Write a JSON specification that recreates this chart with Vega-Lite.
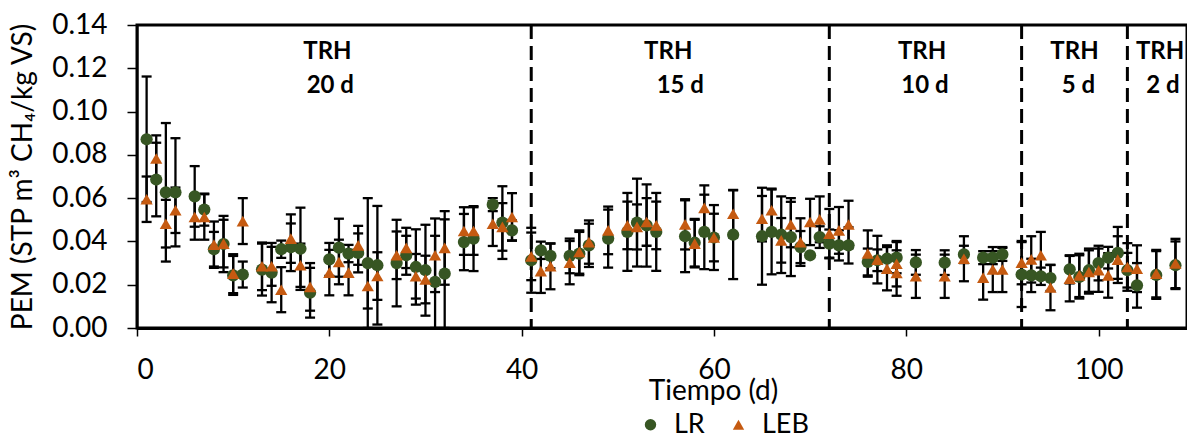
{
  "$schema": "https://vega.github.io/schema/vega-lite/v6.json",
  "width": 1050,
  "height": 303,
  "autosize": {"type": "none"},
  "padding": {"left": 137, "top": 25, "right": 0, "bottom": 111},
  "background": "white",
  "config": {
    "font": "Lato",
    "view": {"stroke": "black", "strokeWidth": 3},
    "axis": {"grid": false, "domainColor": "black", "tickColor": "black", "labelColor": "black", "titleColor": "black", "labelFont": "Lato", "titleFont": "Lato", "titleFontWeight": "normal", "labelFontSize": 28, "titleFontSize": 28, "tickWidth": 1.5},
    "axisX": {"domainWidth": 3, "tickSize": 8, "labelPadding": 20, "titlePadding": -7, "titleX": 576},
    "axisY": {"domainWidth": 2, "tickSize": 10, "labelPadding": 20, "titlePadding": 14},
    "legend": {"labelFont": "Lato", "labelFontSize": 27, "labelColor": "black"}
  },
  "datasets": {
    "pts": [
      {"series":"LR","day":1,"pem":0.0872,"err":0.029},
      {"series":"LR","day":2,"pem":0.0686,"err":0.017},
      {"series":"LR","day":3,"pem":0.0627,"err":0.032},
      {"series":"LR","day":4,"pem":0.0627,"err":0.025},
      {"series":"LR","day":6,"pem":0.0608,"err":0.014},
      {"series":"LR","day":7,"pem":0.0547,"err":0.0074},
      {"series":"LR","day":8,"pem":0.0364,"err":0.008},
      {"series":"LR","day":9,"pem":0.0388,"err":0.013},
      {"series":"LR","day":10,"pem":0.0243,"err":0.009},
      {"series":"LR","day":11,"pem":0.0247,"err":0.006},
      {"series":"LR","day":13,"pem":0.027,"err":0.012},
      {"series":"LR","day":14,"pem":0.0256,"err":0.0137},
      {"series":"LR","day":15,"pem":0.0364,"err":0.004},
      {"series":"LR","day":16,"pem":0.0373,"err":0.011},
      {"series":"LR","day":17,"pem":0.0366,"err":0.019},
      {"series":"LR","day":18,"pem":0.0163,"err":0.0115},
      {"series":"LR","day":20,"pem":0.0317,"err":0.0076},
      {"series":"LR","day":21,"pem":0.0371,"err":0.0134},
      {"series":"LR","day":22,"pem":0.0344,"err":0.004},
      {"series":"LR","day":23,"pem":0.0347,"err":0.009},
      {"series":"LR","day":24,"pem":0.030,"err":0.030},
      {"series":"LR","day":25,"pem":0.029,"err":0.0274},
      {"series":"LR","day":27,"pem":0.030,"err":0.020},
      {"series":"LR","day":28,"pem":0.0336,"err":0.009},
      {"series":"LR","day":29,"pem":0.0282,"err":0.0174},
      {"series":"LR","day":30,"pem":0.0267,"err":0.021},
      {"series":"LR","day":31,"pem":0.0213,"err":0.0213},
      {"series":"LR","day":32,"pem":0.0251,"err":0.0251},
      {"series":"LR","day":34,"pem":0.0397,"err":0.013},
      {"series":"LR","day":35,"pem":0.0413,"err":0.015},
      {"series":"LR","day":37,"pem":0.057,"err":0.003},
      {"series":"LR","day":38,"pem":0.0487,"err":0.0168},
      {"series":"LR","day":39,"pem":0.0451,"err":0.0046},
      {"series":"LR","day":41,"pem":0.0313,"err":0.015},
      {"series":"LR","day":42,"pem":0.0359,"err":0.004},
      {"series":"LR","day":43,"pem":0.0333,"err":0.0057},
      {"series":"LR","day":45,"pem":0.0333,"err":0.008},
      {"series":"LR","day":46,"pem":0.0344,"err":0.01},
      {"series":"LR","day":47,"pem":0.0382,"err":0.01},
      {"series":"LR","day":49,"pem":0.0413,"err":0.0134},
      {"series":"LR","day":51,"pem":0.0444,"err":0.018},
      {"series":"LR","day":52,"pem":0.0487,"err":0.0203},
      {"series":"LR","day":53,"pem":0.0474,"err":0.019},
      {"series":"LR","day":54,"pem":0.0444,"err":0.018},
      {"series":"LR","day":57,"pem":0.0424,"err":0.0166},
      {"series":"LR","day":58,"pem":0.0394,"err":0.011},
      {"series":"LR","day":59,"pem":0.0444,"err":0.0172},
      {"series":"LR","day":60,"pem":0.0418,"err":0.015},
      {"series":"LR","day":62,"pem":0.0431,"err":0.0205},
      {"series":"LR","day":65,"pem":0.0424,"err":0.0224},
      {"series":"LR","day":66,"pem":0.0444,"err":0.0196},
      {"series":"LR","day":67,"pem":0.0431,"err":0.0177},
      {"series":"LR","day":68,"pem":0.042,"err":0.018},
      {"series":"LR","day":69,"pem":0.0374,"err":0.0074},
      {"series":"LR","day":70,"pem":0.0336,"err":0.0},
      {"series":"LR","day":71,"pem":0.042,"err":0.005},
      {"series":"LR","day":72,"pem":0.039,"err":0.0065},
      {"series":"LR","day":73,"pem":0.0382,"err":0.007},
      {"series":"LR","day":74,"pem":0.0382,"err":0.0084},
      {"series":"LR","day":76,"pem":0.0305,"err":0.0062},
      {"series":"LR","day":77,"pem":0.0313,"err":0.005},
      {"series":"LR","day":78,"pem":0.032,"err":0.0062},
      {"series":"LR","day":79,"pem":0.0325,"err":0.0072},
      {"series":"LR","day":81,"pem":0.0303,"err":0.0057},
      {"series":"LR","day":84,"pem":0.0302,"err":0.0057},
      {"series":"LR","day":86,"pem":0.034,"err":0.004},
      {"series":"LR","day":88,"pem":0.0325,"err":0.003},
      {"series":"LR","day":89,"pem":0.0325,"err":0.003},
      {"series":"LR","day":90,"pem":0.034,"err":0.003},
      {"series":"LR","day":92,"pem":0.0247,"err":0.015},
      {"series":"LR","day":93,"pem":0.0243,"err":0.0077},
      {"series":"LR","day":94,"pem":0.0239,"err":0.004},
      {"series":"LR","day":95,"pem":0.0231,"err":0.006},
      {"series":"LR","day":97,"pem":0.0271,"err":0.0065},
      {"series":"LR","day":98,"pem":0.0236,"err":0.01},
      {"series":"LR","day":99,"pem":0.0267,"err":0.01},
      {"series":"LR","day":100,"pem":0.030,"err":0.008},
      {"series":"LR","day":101,"pem":0.0325,"err":0.005},
      {"series":"LR","day":102,"pem":0.0347,"err":0.012},
      {"series":"LR","day":103,"pem":0.0267,"err":0.008},
      {"series":"LR","day":104,"pem":0.0197,"err":0.0103},
      {"series":"LR","day":106,"pem":0.0245,"err":0.011},
      {"series":"LR","day":108,"pem":0.029,"err":0.011},
      {"series":"LEB","day":1,"pem":0.0595,"err":0.0105},
      {"series":"LEB","day":2,"pem":0.0783,"err":0.0107},
      {"series":"LEB","day":3,"pem":0.0482,"err":0.011},
      {"series":"LEB","day":4,"pem":0.0544,"err":0.0105},
      {"series":"LEB","day":6,"pem":0.0513,"err":0.0105},
      {"series":"LEB","day":7,"pem":0.0513,"err":0.0105},
      {"series":"LEB","day":8,"pem":0.0385,"err":0.0107},
      {"series":"LEB","day":9,"pem":0.039,"err":0.011},
      {"series":"LEB","day":10,"pem":0.0251,"err":0.009},
      {"series":"LEB","day":11,"pem":0.0494,"err":0.0106},
      {"series":"LEB","day":13,"pem":0.0285,"err":0.011},
      {"series":"LEB","day":14,"pem":0.0285,"err":0.009},
      {"series":"LEB","day":15,"pem":0.0177,"err":0.0104},
      {"series":"LEB","day":16,"pem":0.0413,"err":0.0112},
      {"series":"LEB","day":17,"pem":0.029,"err":0.01},
      {"series":"LEB","day":18,"pem":0.019,"err":0.011},
      {"series":"LEB","day":20,"pem":0.0256,"err":0.0105},
      {"series":"LEB","day":21,"pem":0.0305,"err":0.0103},
      {"series":"LEB","day":22,"pem":0.0256,"err":0.0105},
      {"series":"LEB","day":23,"pem":0.0382,"err":0.009},
      {"series":"LEB","day":24,"pem":0.0194,"err":0.0104},
      {"series":"LEB","day":25,"pem":0.024,"err":0.011},
      {"series":"LEB","day":27,"pem":0.0336,"err":0.011},
      {"series":"LEB","day":28,"pem":0.037,"err":0.0093},
      {"series":"LEB","day":29,"pem":0.0239,"err":0.0103},
      {"series":"LEB","day":30,"pem":0.0224,"err":0.011},
      {"series":"LEB","day":31,"pem":0.0336,"err":0.017},
      {"series":"LEB","day":32,"pem":0.037,"err":0.017},
      {"series":"LEB","day":34,"pem":0.0448,"err":0.011},
      {"series":"LEB","day":35,"pem":0.0448,"err":0.011},
      {"series":"LEB","day":37,"pem":0.0482,"err":0.0103},
      {"series":"LEB","day":38,"pem":0.0467,"err":0.011},
      {"series":"LEB","day":39,"pem":0.0513,"err":0.011},
      {"series":"LEB","day":41,"pem":0.0331,"err":0.011},
      {"series":"LEB","day":42,"pem":0.0263,"err":0.0101},
      {"series":"LEB","day":43,"pem":0.0285,"err":0.0106},
      {"series":"LEB","day":45,"pem":0.0302,"err":0.010},
      {"series":"LEB","day":46,"pem":0.0351,"err":0.01},
      {"series":"LEB","day":47,"pem":0.0397,"err":0.01},
      {"series":"LEB","day":49,"pem":0.0451,"err":0.011},
      {"series":"LEB","day":51,"pem":0.0474,"err":0.011},
      {"series":"LEB","day":52,"pem":0.0467,"err":0.0104},
      {"series":"LEB","day":53,"pem":0.049,"err":0.011},
      {"series":"LEB","day":54,"pem":0.0474,"err":0.011},
      {"series":"LEB","day":57,"pem":0.0479,"err":0.0116},
      {"series":"LEB","day":58,"pem":0.039,"err":0.011},
      {"series":"LEB","day":59,"pem":0.0555,"err":0.0104},
      {"series":"LEB","day":60,"pem":0.0418,"err":0.011},
      {"series":"LEB","day":62,"pem":0.0528,"err":0.011},
      {"series":"LEB","day":65,"pem":0.0505,"err":0.0105},
      {"series":"LEB","day":66,"pem":0.0544,"err":0.01},
      {"series":"LEB","day":67,"pem":0.0405,"err":0.0103},
      {"series":"LEB","day":68,"pem":0.0478,"err":0.0105},
      {"series":"LEB","day":69,"pem":0.0397,"err":0.011},
      {"series":"LEB","day":70,"pem":0.049,"err":0.0107},
      {"series":"LEB","day":71,"pem":0.0502,"err":0.0106},
      {"series":"LEB","day":72,"pem":0.0436,"err":0.0114},
      {"series":"LEB","day":73,"pem":0.0451,"err":0.0108},
      {"series":"LEB","day":74,"pem":0.0478,"err":0.011},
      {"series":"LEB","day":76,"pem":0.0344,"err":0.0107},
      {"series":"LEB","day":77,"pem":0.0316,"err":0.011},
      {"series":"LEB","day":78,"pem":0.0274,"err":0.01},
      {"series":"LEB","day":79,"pem":0.0297,"err":0.0105},
      {"series":"LEB","day":79,"pem":0.0254,"err":0.0105},
      {"series":"LEB","day":81,"pem":0.0239,"err":0.01},
      {"series":"LEB","day":84,"pem":0.0239,"err":0.01},
      {"series":"LEB","day":86,"pem":0.032,"err":0.0104},
      {"series":"LEB","day":88,"pem":0.0233,"err":0.0102},
      {"series":"LEB","day":89,"pem":0.027,"err":0.0104},
      {"series":"LEB","day":90,"pem":0.027,"err":0.0104},
      {"series":"LEB","day":92,"pem":0.0302,"err":0.01},
      {"series":"LEB","day":93,"pem":0.0317,"err":0.0107},
      {"series":"LEB","day":94,"pem":0.0336,"err":0.0108},
      {"series":"LEB","day":95,"pem":0.0187,"err":0.0105},
      {"series":"LEB","day":97,"pem":0.0228,"err":0.0105},
      {"series":"LEB","day":98,"pem":0.0243,"err":0.01},
      {"series":"LEB","day":99,"pem":0.0259,"err":0.01},
      {"series":"LEB","day":100,"pem":0.0267,"err":0.01},
      {"series":"LEB","day":101,"pem":0.0243,"err":0.0103},
      {"series":"LEB","day":102,"pem":0.0316,"err":0.0108},
      {"series":"LEB","day":103,"pem":0.0282,"err":0.011},
      {"series":"LEB","day":104,"pem":0.0274,"err":0.0108},
      {"series":"LEB","day":106,"pem":0.0251,"err":0.011},
      {"series":"LEB","day":108,"pem":0.0298,"err":0.0114}
    ],
    "phases": [{"day": 41}, {"day": 72}, {"day": 92}, {"day": 103}],
    "labels": [
      {"day": 19.8, "pem": 0.1275, "label": "TRH"},
      {"day": 20.1, "pem": 0.1117, "label": "20 d"},
      {"day": 55.25, "pem": 0.1275, "label": "TRH"},
      {"day": 56.5, "pem": 0.1117, "label": "15 d"},
      {"day": 81.65, "pem": 0.1275, "label": "TRH"},
      {"day": 81.95, "pem": 0.1117, "label": "10 d"},
      {"day": 97.5, "pem": 0.1275, "label": "TRH"},
      {"day": 97.9, "pem": 0.1117, "label": "5 d"},
      {"day": 106.4, "pem": 0.1275, "label": "TRH"},
      {"day": 106.7, "pem": 0.1117, "label": "2 d"}
    ]
  },
  "layer": [
    {
      "data": {"name": "phases"},
      "mark": {"type": "rule", "color": "black", "strokeWidth": 3, "strokeDash": [14, 7]},
      "encoding": {
        "x": {"field": "day", "type": "quantitative", "scale": {"domain": [0, 109.2], "nice": false}, "title": "Tiempo (d)", "axis": {"values": [0, 20, 40, 60, 80, 100]}}
      }
    },
    {
      "data": {"name": "pts"},
      "mark": {"type": "errorbar", "ticks": {"color": "black", "opacity": 1}, "rule": {"color": "black", "opacity": 1}, "size": 10, "thickness": 2.3, "color": "black"},
      "encoding": {
        "x": {"field": "day", "type": "quantitative", "scale": {"domain": [0, 109.2], "nice": false}, "title": "Tiempo (d)", "axis": {"values": [0, 20, 40, 60, 80, 100]}},
        "y": {"field": "pem", "type": "quantitative", "scale": {"domain": [0, 0.14], "nice": false}, "title": "PEM (STP m³ CH₄/kg VS)", "axis": {"values": [0, 0.02, 0.04, 0.06, 0.08, 0.1, 0.12, 0.14], "format": ".2f"}},
        "yError": {"field": "err"}
      }
    },
    {
      "data": {"name": "pts"},
      "mark": {"type": "point", "filled": true, "opacity": 1, "size": 150, "strokeWidth": 0},
      "encoding": {
        "x": {"field": "day", "type": "quantitative", "scale": {"domain": [0, 109.2], "nice": false}, "title": "Tiempo (d)", "axis": {"values": [0, 20, 40, 60, 80, 100]}},
        "y": {"field": "pem", "type": "quantitative", "scale": {"domain": [0, 0.14], "nice": false}, "title": "PEM (STP m³ CH₄/kg VS)", "axis": {"values": [0, 0.02, 0.04, 0.06, 0.08, 0.1, 0.12, 0.14], "format": ".2f"}},
        "color": {"field": "series", "type": "nominal", "scale": {"domain": ["LR", "LEB"], "range": ["#375623", "#C55A11"]}, "legend": {"title": null, "orient": "none", "direction": "horizontal", "legendX": 500, "legendY": 386, "symbolSize": 130, "labelOffset": 10, "columnPadding": 20, "symbolStrokeWidth": 0}},
        "shape": {"field": "series", "type": "nominal", "scale": {"domain": ["LR", "LEB"], "range": ["circle", "triangle-up"]}, "legend": {"title": null, "orient": "none", "direction": "horizontal", "legendX": 500, "legendY": 386, "symbolSize": 130, "labelOffset": 10, "columnPadding": 20, "symbolStrokeWidth": 0}}
      }
    },
    {
      "data": {"name": "labels"},
      "mark": {"type": "text", "font": "Lato", "fontSize": 24, "fontWeight": "bold", "color": "black", "align": "center", "baseline": "middle"},
      "encoding": {
        "x": {"field": "day", "type": "quantitative", "scale": {"domain": [0, 109.2], "nice": false}, "title": "Tiempo (d)", "axis": {"values": [0, 20, 40, 60, 80, 100]}},
        "y": {"field": "pem", "type": "quantitative", "scale": {"domain": [0, 0.14], "nice": false}, "title": "PEM (STP m³ CH₄/kg VS)", "axis": {"values": [0, 0.02, 0.04, 0.06, 0.08, 0.1, 0.12, 0.14], "format": ".2f"}},
        "text": {"field": "label"}
      }
    }
  ]
}
